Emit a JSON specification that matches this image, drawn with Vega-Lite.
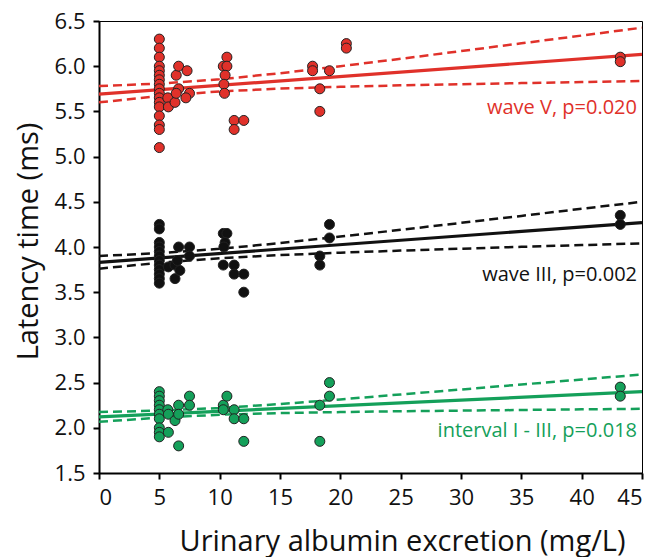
{
  "$schema": "https://vega.github.io/schema/vega-lite/v6.json",
  "autosize": "none",
  "width": 543,
  "height": 452,
  "padding": {"left": 99, "top": 21, "right": 13, "bottom": 84},
  "background": "white",
  "config": {
    "view": {"stroke": "#000", "strokeWidth": 1},
    "font": "Open Sans",
    "axis": {
      "grid": false,
      "domainColor": "#000",
      "domainWidth": 2,
      "tickColor": "#000",
      "tickWidth": 2,
      "tickSize": 6,
      "labelFont": "Open Sans",
      "labelFontSize": 22,
      "labelColor": "#111",
      "labelPadding": 8,
      "titleFont": "Open Sans",
      "titleFontSize": 29,
      "titleFontWeight": "normal",
      "titleColor": "#111"
    }
  },
  "datasets": {
    "pts": [
      {"series": "wave V", "x": 5, "y": 6.3},
      {"series": "wave V", "x": 5, "y": 6.2},
      {"series": "wave V", "x": 5, "y": 6.1},
      {"series": "wave V", "x": 5, "y": 6.0},
      {"series": "wave V", "x": 5, "y": 5.95},
      {"series": "wave V", "x": 5, "y": 5.9},
      {"series": "wave V", "x": 5, "y": 5.85},
      {"series": "wave V", "x": 5, "y": 5.8},
      {"series": "wave V", "x": 5, "y": 5.75},
      {"series": "wave V", "x": 5, "y": 5.7},
      {"series": "wave V", "x": 5, "y": 5.65},
      {"series": "wave V", "x": 5, "y": 5.6},
      {"series": "wave V", "x": 5, "y": 5.55},
      {"series": "wave V", "x": 5, "y": 5.45},
      {"series": "wave V", "x": 5, "y": 5.35},
      {"series": "wave V", "x": 5, "y": 5.3},
      {"series": "wave V", "x": 5, "y": 5.1},
      {"series": "wave V", "x": 5.7, "y": 5.65},
      {"series": "wave V", "x": 5.75, "y": 5.55},
      {"series": "wave V", "x": 6.3, "y": 5.6},
      {"series": "wave V", "x": 6.4, "y": 5.9},
      {"series": "wave V", "x": 6.6, "y": 6.0},
      {"series": "wave V", "x": 7.3, "y": 5.95},
      {"series": "wave V", "x": 6.6, "y": 5.75},
      {"series": "wave V", "x": 6.4, "y": 5.7},
      {"series": "wave V", "x": 7.5, "y": 5.7},
      {"series": "wave V", "x": 7.2, "y": 5.65},
      {"series": "wave V", "x": 10.3, "y": 6.0},
      {"series": "wave V", "x": 10.6, "y": 6.1},
      {"series": "wave V", "x": 10.6, "y": 6.0},
      {"series": "wave V", "x": 10.45, "y": 5.9},
      {"series": "wave V", "x": 10.35, "y": 5.8},
      {"series": "wave V", "x": 10.4, "y": 5.7},
      {"series": "wave V", "x": 11.2, "y": 5.4},
      {"series": "wave V", "x": 11.2, "y": 5.3},
      {"series": "wave V", "x": 12.0, "y": 5.4},
      {"series": "wave V", "x": 17.7, "y": 6.0},
      {"series": "wave V", "x": 17.7, "y": 5.95},
      {"series": "wave V", "x": 19.1, "y": 5.95},
      {"series": "wave V", "x": 18.3, "y": 5.75},
      {"series": "wave V", "x": 18.3, "y": 5.5},
      {"series": "wave V", "x": 20.5, "y": 6.25},
      {"series": "wave V", "x": 20.5, "y": 6.2},
      {"series": "wave V", "x": 43.2, "y": 6.1},
      {"series": "wave V", "x": 43.2, "y": 6.05},

      {"series": "wave III", "x": 5, "y": 4.25},
      {"series": "wave III", "x": 5, "y": 4.2},
      {"series": "wave III", "x": 5, "y": 4.05},
      {"series": "wave III", "x": 5, "y": 4.0},
      {"series": "wave III", "x": 5, "y": 3.95},
      {"series": "wave III", "x": 5, "y": 3.9},
      {"series": "wave III", "x": 5, "y": 3.85},
      {"series": "wave III", "x": 5, "y": 3.8},
      {"series": "wave III", "x": 5, "y": 3.75},
      {"series": "wave III", "x": 5, "y": 3.7},
      {"series": "wave III", "x": 5, "y": 3.65},
      {"series": "wave III", "x": 5, "y": 3.6},
      {"series": "wave III", "x": 5.75, "y": 3.78},
      {"series": "wave III", "x": 6.3, "y": 3.65},
      {"series": "wave III", "x": 6.3, "y": 3.8},
      {"series": "wave III", "x": 6.5, "y": 3.85},
      {"series": "wave III", "x": 6.6, "y": 4.0},
      {"series": "wave III", "x": 6.7, "y": 3.74},
      {"series": "wave III", "x": 7.5, "y": 4.0},
      {"series": "wave III", "x": 7.5, "y": 3.9},
      {"series": "wave III", "x": 10.3, "y": 4.15},
      {"series": "wave III", "x": 10.6, "y": 4.15},
      {"series": "wave III", "x": 10.45, "y": 4.05},
      {"series": "wave III", "x": 10.35, "y": 4.0},
      {"series": "wave III", "x": 10.3, "y": 3.8},
      {"series": "wave III", "x": 11.2, "y": 3.8},
      {"series": "wave III", "x": 11.2, "y": 3.7},
      {"series": "wave III", "x": 12.0, "y": 3.7},
      {"series": "wave III", "x": 12.0, "y": 3.5},
      {"series": "wave III", "x": 19.1, "y": 4.25},
      {"series": "wave III", "x": 19.1, "y": 4.1},
      {"series": "wave III", "x": 18.3, "y": 3.9},
      {"series": "wave III", "x": 18.3, "y": 3.8},
      {"series": "wave III", "x": 43.2, "y": 4.35},
      {"series": "wave III", "x": 43.2, "y": 4.25},

      {"series": "interval", "x": 5, "y": 2.4},
      {"series": "interval", "x": 5, "y": 2.35},
      {"series": "interval", "x": 5, "y": 2.3},
      {"series": "interval", "x": 5, "y": 2.25},
      {"series": "interval", "x": 5, "y": 2.2},
      {"series": "interval", "x": 5, "y": 2.15},
      {"series": "interval", "x": 5, "y": 2.1},
      {"series": "interval", "x": 5, "y": 2.0},
      {"series": "interval", "x": 5, "y": 1.95},
      {"series": "interval", "x": 5, "y": 1.9},
      {"series": "interval", "x": 5.7, "y": 2.2},
      {"series": "interval", "x": 5.75, "y": 2.15},
      {"series": "interval", "x": 5.75, "y": 1.95},
      {"series": "interval", "x": 6.3, "y": 2.08},
      {"series": "interval", "x": 6.6, "y": 2.25},
      {"series": "interval", "x": 6.6, "y": 2.15},
      {"series": "interval", "x": 6.6, "y": 1.8},
      {"series": "interval", "x": 7.5, "y": 2.35},
      {"series": "interval", "x": 7.5, "y": 2.25},
      {"series": "interval", "x": 10.3, "y": 2.25},
      {"series": "interval", "x": 10.6, "y": 2.35},
      {"series": "interval", "x": 10.3, "y": 2.2},
      {"series": "interval", "x": 11.2, "y": 2.2},
      {"series": "interval", "x": 11.2, "y": 2.1},
      {"series": "interval", "x": 12.0, "y": 2.1},
      {"series": "interval", "x": 12.0, "y": 1.85},
      {"series": "interval", "x": 19.1, "y": 2.5},
      {"series": "interval", "x": 19.1, "y": 2.35},
      {"series": "interval", "x": 18.3, "y": 2.25},
      {"series": "interval", "x": 18.3, "y": 1.85},
      {"series": "interval", "x": 43.2, "y": 2.45},
      {"series": "interval", "x": 43.2, "y": 2.35}
    ],
    "lines": [
      {"series": "wave V", "kind": "fit", "x": 0, "y": 5.69},
      {"series": "wave V", "kind": "fit", "x": 45, "y": 6.13},
      {"series": "wave V", "kind": "upper", "x": 0, "y": 5.78},
      {"series": "wave V", "kind": "upper", "x": 5, "y": 5.808},
      {"series": "wave V", "kind": "upper", "x": 10, "y": 5.855},
      {"series": "wave V", "kind": "upper", "x": 15, "y": 5.922},
      {"series": "wave V", "kind": "upper", "x": 20, "y": 6.0},
      {"series": "wave V", "kind": "upper", "x": 25, "y": 6.082},
      {"series": "wave V", "kind": "upper", "x": 30, "y": 6.167},
      {"series": "wave V", "kind": "upper", "x": 35, "y": 6.253},
      {"series": "wave V", "kind": "upper", "x": 40, "y": 6.339},
      {"series": "wave V", "kind": "upper", "x": 45, "y": 6.426},
      {"series": "wave V", "kind": "lower", "x": 0, "y": 5.6},
      {"series": "wave V", "kind": "lower", "x": 5, "y": 5.67},
      {"series": "wave V", "kind": "lower", "x": 10, "y": 5.721},
      {"series": "wave V", "kind": "lower", "x": 15, "y": 5.752},
      {"series": "wave V", "kind": "lower", "x": 20, "y": 5.772},
      {"series": "wave V", "kind": "lower", "x": 25, "y": 5.788},
      {"series": "wave V", "kind": "lower", "x": 30, "y": 5.801},
      {"series": "wave V", "kind": "lower", "x": 35, "y": 5.813},
      {"series": "wave V", "kind": "lower", "x": 40, "y": 5.825},
      {"series": "wave V", "kind": "lower", "x": 45, "y": 5.836},

      {"series": "wave III", "kind": "fit", "x": 0, "y": 3.83},
      {"series": "wave III", "kind": "fit", "x": 45, "y": 4.27},
      {"series": "wave III", "kind": "upper", "x": 0, "y": 3.9},
      {"series": "wave III", "kind": "upper", "x": 5, "y": 3.933},
      {"series": "wave III", "kind": "upper", "x": 10, "y": 3.98},
      {"series": "wave III", "kind": "upper", "x": 15, "y": 4.043},
      {"series": "wave III", "kind": "upper", "x": 20, "y": 4.115},
      {"series": "wave III", "kind": "upper", "x": 25, "y": 4.19},
      {"series": "wave III", "kind": "upper", "x": 30, "y": 4.267},
      {"series": "wave III", "kind": "upper", "x": 35, "y": 4.344},
      {"series": "wave III", "kind": "upper", "x": 40, "y": 4.423},
      {"series": "wave III", "kind": "upper", "x": 45, "y": 4.5},
      {"series": "wave III", "kind": "lower", "x": 0, "y": 3.76},
      {"series": "wave III", "kind": "lower", "x": 5, "y": 3.825},
      {"series": "wave III", "kind": "lower", "x": 10, "y": 3.876},
      {"series": "wave III", "kind": "lower", "x": 15, "y": 3.911},
      {"series": "wave III", "kind": "lower", "x": 20, "y": 3.937},
      {"series": "wave III", "kind": "lower", "x": 25, "y": 3.96},
      {"series": "wave III", "kind": "lower", "x": 30, "y": 3.981},
      {"series": "wave III", "kind": "lower", "x": 35, "y": 4.002},
      {"series": "wave III", "kind": "lower", "x": 40, "y": 4.021},
      {"series": "wave III", "kind": "lower", "x": 45, "y": 4.041},

      {"series": "interval", "kind": "fit", "x": 0, "y": 2.12},
      {"series": "interval", "kind": "fit", "x": 45, "y": 2.4},
      {"series": "interval", "kind": "upper", "x": 0, "y": 2.174},
      {"series": "interval", "kind": "upper", "x": 5, "y": 2.19},
      {"series": "interval", "kind": "upper", "x": 10, "y": 2.219},
      {"series": "interval", "kind": "upper", "x": 15, "y": 2.263},
      {"series": "interval", "kind": "upper", "x": 20, "y": 2.314},
      {"series": "interval", "kind": "upper", "x": 25, "y": 2.369},
      {"series": "interval", "kind": "upper", "x": 30, "y": 2.423},
      {"series": "interval", "kind": "upper", "x": 35, "y": 2.479},
      {"series": "interval", "kind": "upper", "x": 40, "y": 2.534},
      {"series": "interval", "kind": "upper", "x": 45, "y": 2.59},
      {"series": "interval", "kind": "lower", "x": 0, "y": 2.066},
      {"series": "interval", "kind": "lower", "x": 5, "y": 2.112},
      {"series": "interval", "kind": "lower", "x": 10, "y": 2.145},
      {"series": "interval", "kind": "lower", "x": 15, "y": 2.163},
      {"series": "interval", "kind": "lower", "x": 20, "y": 2.174},
      {"series": "interval", "kind": "lower", "x": 25, "y": 2.183},
      {"series": "interval", "kind": "lower", "x": 30, "y": 2.19},
      {"series": "interval", "kind": "lower", "x": 35, "y": 2.197},
      {"series": "interval", "kind": "lower", "x": 40, "y": 2.204},
      {"series": "interval", "kind": "lower", "x": 45, "y": 2.21}
    ],
    "labels": [
      {"series": "wave V", "label": "wave V, p=0.020", "x": 45, "y": 5.535},
      {"series": "wave III", "label": "wave III, p=0.002", "x": 45, "y": 3.69},
      {"series": "interval", "label": "interval I - III, p=0.018", "x": 45, "y": 1.96}
    ]
  },
  "encoding": {
    "x": {
      "field": "x", "type": "quantitative",
      "scale": {"domain": [0, 45], "nice": false, "zero": false},
      "axis": {"values": [0, 5, 10, 15, 20, 25, 30, 35, 40, 45], "title": "Urinary albumin excretion (mg/L)", "titleX": 303, "titleAlign": "center", "titleY": 77, "titleBaseline": "alphabetic"}
    },
    "y": {
      "field": "y", "type": "quantitative",
      "scale": {"domain": [1.5, 6.5], "nice": false, "zero": false},
      "axis": {"values": [1.5, 2, 2.5, 3, 3.5, 4, 4.5, 5, 5.5, 6, 6.5], "format": ".1f", "title": "Latency time (ms)", "titleX": -62, "titleY": 220, "titleBaseline": "alphabetic", "titleAngle": -90, "titleAlign": "center"}
    },
    "color": {
      "field": "series", "type": "nominal",
      "scale": {"domain": ["wave V", "wave III", "interval"], "range": ["#E0312A", "#111111", "#14A05A"]},
      "legend": null
    }
  },
  "layer": [
    {
      "data": {"name": "lines"},
      "transform": [{"filter": "datum.kind != 'fit'"}],
      "mark": {"type": "line", "strokeWidth": 2.5, "strokeDash": [9, 5], "clip": true},
      "encoding": {"detail": {"field": "kind"}}
    },
    {
      "data": {"name": "lines"},
      "transform": [{"filter": "datum.kind == 'fit'"}],
      "mark": {"type": "line", "strokeWidth": 3.2, "clip": true},
      "encoding": {"detail": {"field": "kind"}}
    },
    {
      "data": {"name": "pts"},
      "mark": {"type": "point", "shape": "circle", "filled": true, "size": 100, "opacity": 1, "stroke": "#222", "strokeWidth": 1}
    },
    {
      "data": {"name": "labels"},
      "mark": {"type": "text", "align": "right", "baseline": "middle", "dx": -5, "fontSize": 20, "font": "Open Sans"},
      "encoding": {"text": {"field": "label"}}
    }
  ]
}
